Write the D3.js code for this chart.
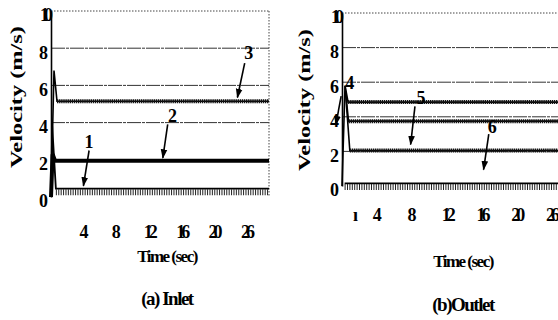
<!DOCTYPE html>
<html><head><meta charset="utf-8">
<script src="https://cdn.jsdelivr.net/npm/d3@7"></script>
<style>
html,body{margin:0;padding:0;background:#fff;}
svg{display:block;}
text{font-family:"Liberation Serif","DejaVu Serif",serif;font-weight:bold;fill:#000;}
</style></head>
<body><svg id="c" width="558" height="320"></svg>
<script>
// ---------- data ----------
const yTickValues = [0, 2, 4, 6, 8, 10];
const yTickLabels = ["0", "2", "4", "6", "8", "10"];
const gridValues = [2, 4, 6, 8];

const inletXTicks = [4, 8, 12, 16, 20, 24];
const inletXLabels = ["4", "8", "12", "16", "20", "26"];
const outletXTicks = [1.5, 4, 8, 12, 16, 20, 24];
const outletXLabels = ["ı", "4", "8", "12", "16", "20", "26"];

// Inlet series (time in sec, velocity in m/s)
const in1Time = [0, 0.15, 0.6, 26.9];
const in1Vel  = [0, 3.8, 0.45, 0.45];
const in2Time = [0, 0.2, 0.5, 26.9];
const in2Vel  = [0, 2.3, 1.95, 1.95];
const in3Time = [0, 0.37, 0.74, 26.9];
const in3Vel  = [0, 6.8, 5.15, 5.15];

// Outlet series
const out1Time = [0, 0.35, 0.7, 25.1];
const out1Vel  = [0, 5.8, 4.85, 4.85];
const out2Time = [0.4, 0.75, 25.1];
const out2Vel  = [5.5, 3.75, 3.75];
const out3Time = [0.35, 0.9, 25.1];
const out3Vel  = [5.8, 2.05, 2.05];
const out4Time = [0.3, 25.1];
const out4Vel  = [0.15, 0.15];

// annotations: label, text(t,v), arrow start (t,v), arrow tip (t,v)
const inletNotes = [
  ["3", 24.4, 7.75, 23.9, 7.2, 23.0, 5.35],
  ["2", 15.0, 4.35, 14.4, 3.9, 13.8, 2.1],
  ["1", 4.7, 3.0, 4.7, 2.5, 4.0, 0.6]
];
const outletNotes = [
  ["4", 0.9, 6.0, -0.1, 5.2, -0.7, 3.55],
  ["5", 9.1, 5.1, 8.4, 4.6, 7.9, 2.4],
  ["6", 17.3, 3.45, 16.9, 3.0, 16.3, 0.95]
];

// ---------- drawing ----------
const svg = d3.select("#c");
const defs = svg.append("defs");
defs.append("marker").attr("id","ah").attr("viewBox","0 0 10 10")
  .attr("refX",9).attr("refY",5).attr("markerWidth",6).attr("markerHeight",6)
  .attr("orient","auto").append("path").attr("d","M0,1.5L10,5L0,8.5Z").attr("fill","#000");

function panel(cfg){
  const x = d3.scaleLinear().domain(cfg.xDomain).range(cfg.xRange);
  const y = d3.scaleLinear().domain([0,10]).range(cfg.yRange);
  const g = svg.append("g");
  // grid
  g.selectAll(".grid").data(gridValues).enter().append("line")
    .attr("x1", cfg.xRange[0]).attr("x2", cfg.xRange[1])
    .attr("y1", d=>y(d)).attr("y2", d=>y(d))
    .attr("stroke","#333").attr("stroke-width",1)
    .attr("stroke-dasharray","14,1,3,1");
  // top dotted border
  g.append("line").attr("x1",cfg.xRange[0]).attr("x2",cfg.xRange[1])
    .attr("y1",y(10)).attr("y2",y(10))
    .attr("stroke","#444").attr("stroke-width",1).attr("stroke-dasharray","1.5,1.5");
  if(cfg.rightBorder){
    g.append("line").attr("x1",cfg.xRange[1]).attr("x2",cfg.xRange[1])
      .attr("y1",y(10)).attr("y2",y(0))
      .attr("stroke","#444").attr("stroke-width",1).attr("stroke-dasharray","1.5,1.5");
  }
  // y axis
  const yAxis = d3.axisLeft(y).tickValues(yTickValues)
    .tickFormat((d,i)=>yTickLabels[i]).tickSize(0).tickPadding(3);
  const ya = g.append("g").attr("transform",`translate(${cfg.xRange[0]},0)`).call(yAxis);
  ya.select(".domain").attr("stroke","#000").attr("stroke-width",1.6);
  ya.selectAll("text").attr("font-size",18).attr("dy","0.55em")
    .attr("font-family","Liberation Serif").attr("font-weight","bold")
    .attr("letter-spacing",d=>d===10?"-5px":"0px");
  // x tick labels via axis
  const xAxis = d3.axisBottom(x).tickValues(cfg.xTicks)
    .tickFormat((d,i)=>cfg.xLabels[i]).tickSize(0).tickPadding(0);
  const xa = g.append("g").attr("transform",`translate(0,${cfg.xLabelY})`).call(xAxis);
  xa.select(".domain").remove();
  xa.selectAll("text").attr("font-size",18).attr("dy","0")
    .attr("font-family","Liberation Serif").attr("font-weight","bold")
    .attr("letter-spacing",(d,i)=>cfg.xLabels[i].length>1?"-4px":"0px");

  const line = d3.line().x(d=>x(d[0])).y(d=>y(d[1]));
  cfg.series.forEach(s=>{
    const pts = s.t.map((t,i)=>[t, s.v[i]]);
    if(s.style==="thick"){
      g.append("path").attr("d",line(pts)).attr("fill","none")
        .attr("stroke","#000").attr("stroke-width",4);
    } else if(s.style==="hatch"){
      g.append("path").attr("d",line(pts)).attr("fill","none")
        .attr("stroke","#000").attr("stroke-width",1.6);
      g.append("path").attr("d",line(pts.slice(-2))).attr("fill","none")
        .attr("stroke","#111").attr("stroke-width",4).attr("stroke-dasharray","1.4,0.7");
    } else if(s.style==="ticks"){
      g.append("path").attr("d",line(pts)).attr("fill","none")
        .attr("stroke","#000").attr("stroke-width",1.8);
      g.append("path").attr("d",line(pts.slice(-2))).attr("fill","none")
        .attr("transform","translate(0,3.5)")
        .attr("stroke","#222").attr("stroke-width",6).attr("stroke-dasharray","1,1.4");
    }
  });
  // annotations
  cfg.notes.forEach(n=>{
    g.append("text").attr("x",x(n[1])).attr("y",y(n[2]))
      .attr("font-size",18).attr("font-weight","normal").attr("text-anchor","middle")
      .attr("dy","0.35em").text(n[0]);
    g.append("line").attr("x1",x(n[3])).attr("y1",y(n[4]))
      .attr("x2",x(n[5])).attr("y2",y(n[6]))
      .attr("stroke","#000").attr("stroke-width",1.6).attr("marker-end","url(#ah)");
  });
  // titles
  svg.append("text").attr("transform",`translate(${cfg.yTitleX},${cfg.yTitleY}) rotate(-90)`)
    .attr("text-anchor","middle").attr("font-size",17)
    .attr("textLength",142).attr("lengthAdjust","spacingAndGlyphs")
    .text("Velocity (m/s)");
  svg.append("text").attr("x",cfg.titleX).attr("y",cfg.xTitleY)
    .attr("text-anchor","middle").attr("font-size",17).attr("letter-spacing","-1.5px")
    .text("Time (sec)");
  svg.append("text").attr("x",cfg.titleX).attr("y",cfg.capY)
    .attr("text-anchor","middle").attr("font-size",19).attr("letter-spacing","-1.5px")
    .text(cfg.caption);
}

panel({
  xDomain:[0,26.9], xRange:[51,269], yRange:[197,11],
  xTicks: inletXTicks, xLabels: inletXLabels, xLabelY: 238,
  rightBorder:true,
  series:[
    {t:in1Time, v:in1Vel, style:"ticks"},
    {t:in2Time, v:in2Vel, style:"thick"},
    {t:in3Time, v:in3Vel, style:"hatch"}
  ],
  notes: inletNotes,
  yTitleX: 22, yTitleY: 97, titleX: 167, xTitleY: 262, capY: 305,
  caption: "(a) Inlet"
});
panel({
  xDomain:[0,25.1], xRange:[342,560], yRange:[186,13],
  xTicks: outletXTicks, xLabels: outletXLabels, xLabelY: 221,
  rightBorder:false,
  series:[
    {t:out1Time, v:out1Vel, style:"hatch"},
    {t:out2Time, v:out2Vel, style:"hatch"},
    {t:out3Time, v:out3Vel, style:"hatch"},
    {t:out4Time, v:out4Vel, style:"ticks"}
  ],
  notes: outletNotes,
  yTitleX: 310, yTitleY: 100, titleX: 463, xTitleY: 267, capY: 311,
  caption: "(b)Outlet"
});
</script></body></html>
